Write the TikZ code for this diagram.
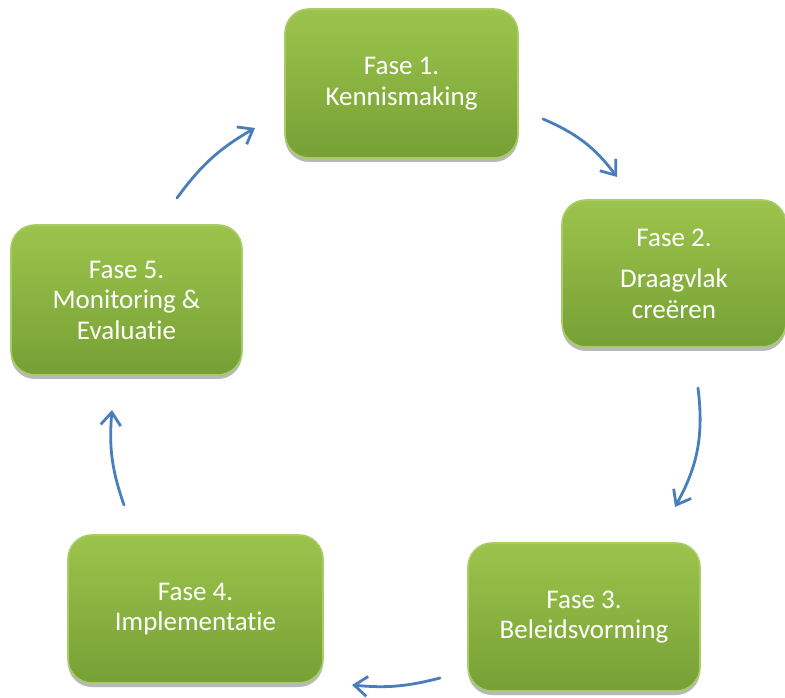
\documentclass[tikz,border=0pt]{standalone}
\usepackage{fontspec}
\setmainfont{Carlito}[Ligatures={NoCommon}]
\usetikzlibrary{arrows.meta,shadows}
\definecolor{gtop}{HTML}{9CC44C}
\definecolor{gbot}{HTML}{76A035}
\definecolor{gborder}{HTML}{A8CC66}
\definecolor{arrowblue}{HTML}{4A7EBB}
\tikzset{
  phase/.style={rectangle, rounded corners=24pt, draw=gborder, line width=1.6pt,
    top color=gtop, bottom color=gbot, text=white, align=center,
    font=\fontsize{27}{30.5}\selectfont,
    drop shadow={shadow xshift=0pt, shadow yshift=-4pt, opacity=0.28, fill=black},
    inner sep=0pt},
  flow/.style={draw=arrowblue, line width=2.8pt, line cap=round,
    -{Straight Barb[length=13pt, width=20pt, line width=2.8pt]}}
}
\begin{document}
\begin{tikzpicture}[x=1pt,y=1pt]
\useasboundingbox (0,0) rectangle (785,697);
\fill[white] (0,0) rectangle (785,697);
\node[phase, minimum width=233pt, minimum height=149pt] (f1) at (401.5,613.5) {Fase 1.\\Kennismaking};
\node[phase, minimum width=224pt, minimum height=147pt] (f2) at (674,423.5) {Fase 2.\\[11pt]Draagvlak\\creëren};
\node[phase, minimum width=232pt, minimum height=148pt] (f3) at (584,80) {Fase 3.\\Beleidsvorming};
\node[phase, minimum width=255pt, minimum height=148pt] (f4) at (195.5,88) {Fase 4.\\Implementatie};
\node[phase, minimum width=231pt, minimum height=150pt] (f5) at (126.5,397) {Fase 5.\\Monitoring \&\\Evaluatie};
\coordinate (a1s) at (543,578);
\coordinate (a1e) at (617,520);
\coordinate (a2s) at (698,309);
\coordinate (a2e) at (675,190);
\coordinate (a3s) at (440,19);
\coordinate (a3e) at (352,12);
\coordinate (a4s) at (124,192);
\coordinate (a4e) at (112,287);
\coordinate (a5s) at (177,499);
\coordinate (a5e) at (255,569);
\draw[flow] (a1s) to[bend left=15] (a1e);
\draw[flow] (a2s) to[bend left=18] (a2e);
\draw[flow] (a3s) to[bend left=10] (a3e);
\draw[flow] (a4s) to[bend left=12] (a4e);
\draw[flow] (a5s) to[bend left=12] (a5e);
\end{tikzpicture}
\end{document}
